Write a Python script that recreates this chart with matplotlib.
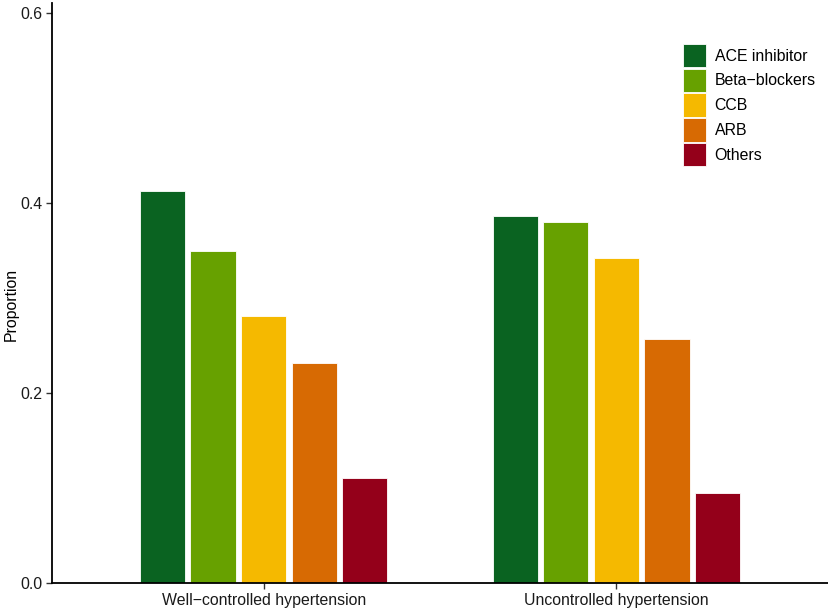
import matplotlib
matplotlib.use("Agg")
import matplotlib.pyplot as plt
from matplotlib.patches import Patch
import numpy as np

plt.rcParams['font.family'] = ['Liberation Sans', 'DejaVu Sans']

groups = ["Well\u2212controlled hypertension", "Uncontrolled hypertension"]
drugs = ["ACE inhibitor", "Beta\u2212blockers", "CCB", "ARB", "Others"]
colors = ["#0a6321", "#67a100", "#f5b900", "#d76a03", "#94001a"]
well_controlled = [0.413, 0.350, 0.281, 0.232, 0.111]
uncontrolled = [0.386, 0.380, 0.342, 0.257, 0.095]
yticks = [0.0, 0.2, 0.4, 0.6]

W, H = 829, 609
fig = plt.figure(figsize=(W / 100, H / 100), dpi=100)
left, right, top, bottom = 52, 828, 3, 583.3
ax = fig.add_axes([left / W, (H - bottom) / H, (right - left) / W, (bottom - top) / H])

values = np.array([well_controlled, uncontrolled])
x = np.arange(1, len(groups) + 1)
step = 0.1435
width = 0.128
for i, (d, c) in enumerate(zip(drugs, colors)):
    ax.bar(x + (i - 2) * step, values[:, i], width=width, color=c,
           edgecolor="white", linewidth=0.6, label=d)

fs = 11.4
ax.set_xlim(0.4, 2.6)
ax.set_ylim(0, 0.6105)
ax.set_xticks(x)
ax.set_xticklabels(groups, fontsize=fs, color="#1a1a1a")
ax.set_yticks(yticks)
ax.set_yticklabels([f"{t:.1f}" for t in yticks], fontsize=fs, color="#1a1a1a")
ax.set_ylabel("Proportion", fontsize=fs)
ax.yaxis.set_label_coords(19 / W, 0.5, transform=fig.transFigure)
for s in ["top", "right"]:
    ax.spines[s].set_visible(False)
for s in ["left", "bottom"]:
    ax.spines[s].set_linewidth(1.3)
    ax.spines[s].set_color("black")
ax.tick_params(axis="both", length=4, width=1.0, color="#333333", pad=3)

handles = [Patch(facecolor=c, edgecolor="white", linewidth=0.6) for c in colors]
fig.legend(handles, drugs, loc="upper left", bbox_to_anchor=(683 / W, 1 - 44 / H),
           bbox_transform=fig.transFigure, frameon=False, fontsize=fs,
           handlelength=1.45, handleheight=1.9, labelspacing=0.08,
           handletextpad=0.55, borderpad=0, borderaxespad=0)

fig.savefig("out.png", dpi=100)
